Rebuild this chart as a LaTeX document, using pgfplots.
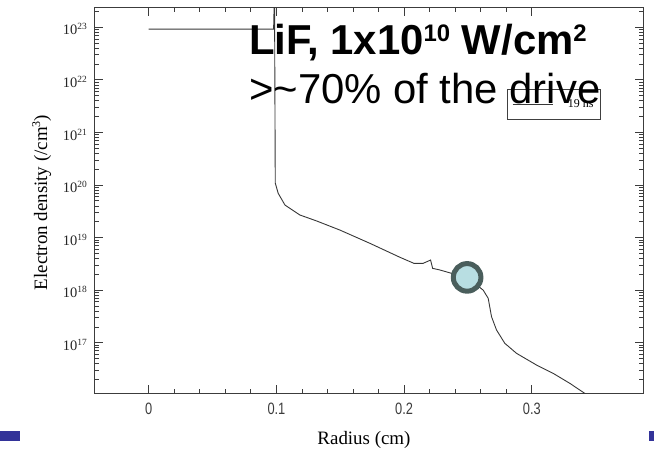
\documentclass[border=0pt]{standalone}
\usepackage{pgfplots}
\pgfplotsset{compat=1.18}
\usepackage{fontspec}
\setmainfont{Liberation Serif}
\newfontfamily\arialfont{Liberation Sans}
\newfontfamily\narrowfont[FakeStretch=0.78]{Liberation Sans}
\definecolor{curvegray}{RGB}{55,55,55}
\definecolor{markfill}{RGB}{184,222,226}
\definecolor{markring}{RGB}{74,94,92}
\definecolor{slideblue}{RGB}{51,51,153}
\definecolor{axisgray}{RGB}{60,60,60}

% power-of-ten tick label in the text font
\newcommand{\pten}[1]{10\raisebox{5bp}{\fontsize{9.5}{9.5}\selectfont #1}}

\begin{document}
\begin{tikzpicture}[x=1bp,y=1bp]
\useasboundingbox (0,0) rectangle (654,452);
\fill[slideblue] (0,11) rectangle (20,21);
\fill[slideblue] (649.3,11) rectangle (654,21);
\begin{axis}[
  at={(94bp,58bp)}, anchor=south west,
  scale only axis, width=549bp, height=386bp,
  xmin=-0.0428, xmax=0.387,
  ymode=log, ymin=1.06e16, ymax=2.33e23,
  xtick={0,0.1,0.2,0.3},
  xticklabels={0,0.1,0.2,0.3},
  minor x tick num=4,
  ytick={1e17,1e18,1e19,1e20,1e21,1e22,1e23},
  yticklabels={\pten{17},\pten{18},\pten{19},\pten{20},\pten{21},\pten{22},\pten{23}},
  minor ytick={2e16,3e16,4e16,5e16,6e16,7e16,8e16,9e16,
               2e17,3e17,4e17,5e17,6e17,7e17,8e17,9e17,
               2e18,3e18,4e18,5e18,6e18,7e18,8e18,9e18,
               2e19,3e19,4e19,5e19,6e19,7e19,8e19,9e19,
               2e20,3e20,4e20,5e20,6e20,7e20,8e20,9e20,
               2e21,3e21,4e21,5e21,6e21,7e21,8e21,9e21,
               2e22,3e22,4e22,5e22,6e22,7e22,8e22,9e22,
               2e23},
  tick align=inside,
  major tick length=8.5bp, minor tick length=4.5bp,
  axis line style={axisgray, line width=1bp},
  every tick/.style={axisgray, line width=0.8bp},
  xticklabel style={font=\narrowfont\fontsize{16.5}{16.5}\selectfont, text=axisgray, inner sep=0pt, anchor=north, yshift=-9bp},
  yticklabel style={font=\fontsize{14.5}{14.5}\selectfont, text=black!85, inner sep=0pt, anchor=east, xshift=-7bp, yshift=-2bp},
  xlabel={Radius (cm)},
  ylabel={Electron density (/cm\raisebox{7bp}{\fontsize{12}{12}\selectfont 3})},
  every axis x label/.style={at={(axis description cs:0.4918,0)}, anchor=base, yshift=-51bp, font=\fontsize{19}{19}\selectfont},
  every axis y label/.style={at={(axis description cs:-0.0856,0.496)}, rotate=90, anchor=base, font=\fontsize{19}{19}\selectfont},
  legend style={at={(0.7517,0.7894)}, anchor=north west, draw=black!75, line width=0.8bp,
    font=\fontsize{12}{12}\selectfont, inner xsep=5bp, inner ysep=8bp,
    nodes={inner sep=2bp}, column sep=13bp},
  legend image code/.code={\draw[#1] (0bp,0bp) -- (40bp,0bp);},
]
% electron density profile at 19 ns
\addplot[curvegray, line width=0.9bp] coordinates {
  (0.0000, 9.2e22)
  (0.0978, 9.2e22)
  (0.0985, 5.0e23)
  (0.0991, 1.09e20)
  (0.1014, 6.95e19)
  (0.1067, 4.16e19)
  (0.1184, 2.69e19)
  (0.1315, 2.07e19)
  (0.1497, 1.39e19)
  (0.1732, 7.78e18)
  (0.1967, 4.22e18)
  (0.2076, 3.24e18)
  (0.2149, 3.24e18)
  (0.2207, 3.74e18)
  (0.2223, 2.60e18)
  (0.2280, 2.42e18)
  (0.2371, 2.09e18)
  (0.2493, 1.75e18)
  (0.2619, 1.00e18)
  (0.2658, 7.00e17)
  (0.2684, 3.13e17)
  (0.2723, 1.75e17)
  (0.2788, 9.75e16)
  (0.2880, 6.28e16)
  (0.3036, 3.77e16)
  (0.3166, 2.62e16)
  (0.3297, 1.69e16)
  (0.3414, 1.09e16)
  (0.3430, 1.00e16)
};
\addlegendentry{19 ns}
% highlighted point on the profile
\addplot[forget plot, only marks, mark=*, mark size=13.8bp,
  mark options={fill=markfill, draw=markring, line width=5bp}]
  coordinates {(0.2493, 1.75e18)};
\end{axis}
\node[anchor=base west, inner sep=0pt, font={\arialfont\bfseries\fontsize{42}{42}\selectfont}]
  at (249,397.7) {LiF, 1x10\raisebox{13bp}{\fontsize{24}{24}\selectfont 10} W/cm\raisebox{13bp}{\fontsize{24}{24}\selectfont 2}};
\node[anchor=base west, inner sep=0pt, font={\arialfont\fontsize{42}{42}\selectfont}]
  at (249,348.7) {>\textasciitilde 70\% of the drive};
\end{tikzpicture}
\end{document}
